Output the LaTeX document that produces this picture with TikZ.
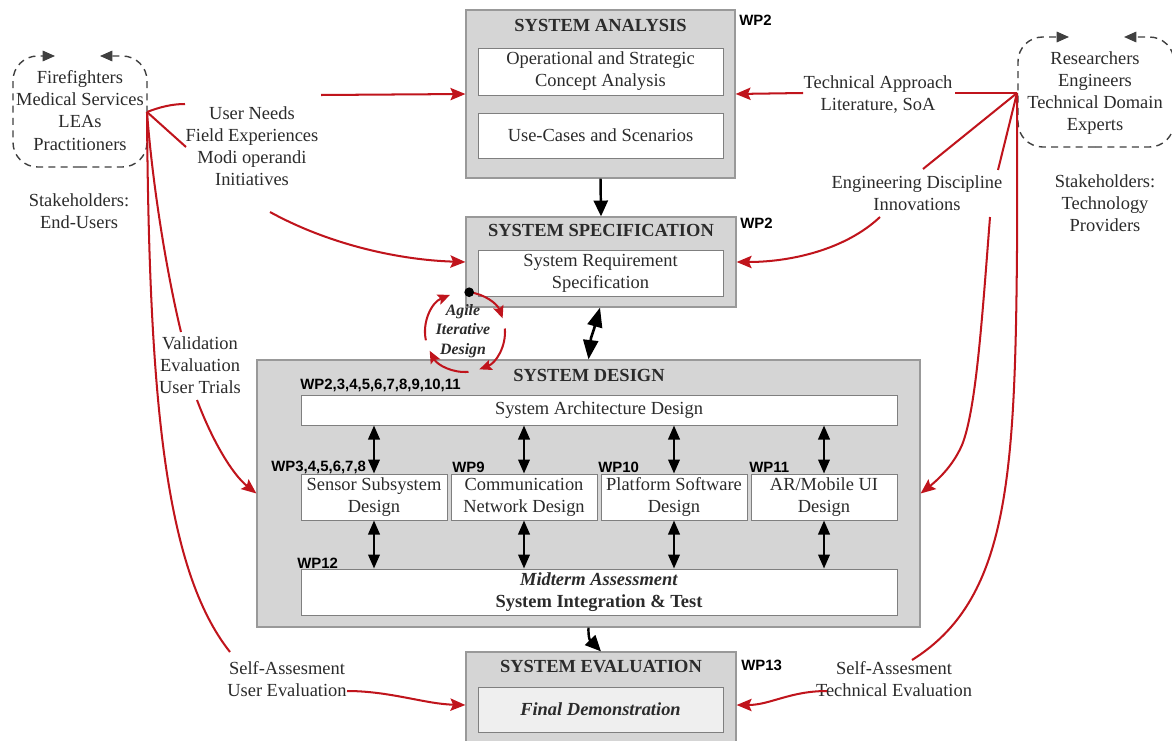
\documentclass[tikz,border=0pt]{standalone}
\usepackage{fontspec}
\setmainfont{Liberation Serif}
\newfontfamily\wpfont{Liberation Sans}
\usetikzlibrary{arrows.meta,fit,calc}

\definecolor{linkred}{HTML}{C0141C}
\definecolor{boxgray}{HTML}{D5D5D5}
\definecolor{edgegray}{HTML}{999999}
\definecolor{taskedge}{HTML}{7F7F7F}
\definecolor{inkgray}{HTML}{2B2B2B}
\definecolor{demofill}{HTML}{EFEFEF}

\tikzset{
  phase/.style={rectangle, draw=edgegray, fill=boxgray, line width=0.7pt, inner sep=0pt},
  size/.style 2 args={minimum width=#1*0.02cm, minimum height=#2*0.02cm},
  task/.style={rectangle, draw=taskedge, fill=white, line width=0.5pt, inner sep=0pt,
    align=center, text=inkgray, font=\fontsize{10.5}{12.6}\selectfont},
  phasetitle/.style={inner sep=0pt, text=inkgray, font=\fontsize{10.5}{12.6}\selectfont\bfseries},
  wp/.style={anchor=west, inner sep=0pt, text=black, font=\wpfont\fontsize{8.5}{10}\selectfont\bfseries},
  lbl/.style={align=center, inner sep=0pt, text=inkgray, font=\fontsize{10.5}{12.6}\selectfont},
  feed/.style={draw=linkred, line width=1.15pt},
  feedin/.style={feed, -{Stealth[length=8.5pt,width=7pt,inset=1.5pt]}},
  flow/.style={draw=black, line width=1.4pt, -{Triangle[length=9pt,width=8pt]}},
  flowboth/.style={draw=black, line width=1.4pt, {Triangle[length=8pt,width=6.5pt]}-{Triangle[length=8pt,width=6.5pt]}},
  flowbig/.style={draw=black, line width=1.5pt, {Triangle[length=11pt,width=8.5pt]}-{Triangle[length=11pt,width=8.5pt]}},
  grouprim/.style={draw=black!75, line width=0.8pt, dash pattern=on 4pt off 3pt,
    rounded corners=14pt, -{Triangle[length=7pt,width=6pt]}},
  iterarc/.style={draw=linkred, line width=1.15pt, -{Stealth[length=7pt,width=6pt,inset=1.2pt]}},
}

\begin{document}
\begin{tikzpicture}[x=0.02cm, y=-0.02cm]
\useasboundingbox (0,0) rectangle (1172,740);
\clip (0,0) rectangle (1172,740);
\fill[white] (0,0) rectangle (1172,740);

% ---------- phase containers ----------
\node[phase, fit={(466,10)(735,178)}] (SA) {};
\node[phase, fit={(466,217)(736,307)}] (SS) {};
\node[phase, fit={(257,360)(920,627)}] (SD) {};
\node[phase, fit={(466,652)(736,758)}] (SE) {};

\node[phasetitle] (SAt) at (600.5,25) {SYSTEM ANALYSIS};
\node[phasetitle] (SSt) at (601,230) {SYSTEM SPECIFICATION};
\node[phasetitle] (SDt) at (589,375) {SYSTEM DESIGN};
\node[phasetitle] (SEt) at (601,667) {SYSTEM EVALUATION};

% ---------- tasks ----------
\node[task, size={245}{47}] (osca) at (600.5,71.5) {Operational and Strategic\\Concept Analysis};
\node[task, size={245}{45}] (ucs) at (600.5,135.5) {Use-Cases and Scenarios};
\node[task, size={245}{46}] (srs) at (600.5,273) {System Requirement\\Specification};
\node[task, size={596}{30}] (arch) at (599,410) {System Architecture Design};
\node[task, size={146}{46}] (sen) at (374,497) {Sensor Subsystem\\Design};
\node[task, size={146}{46}] (com) at (524,497) {Communication\\Network Design};
\node[task, size={146}{46}] (pla) at (674,497) {Platform Software\\Design};
\node[task, size={146}{46}] (aru) at (824,497) {AR/Mobile UI\\Design};
\node[task, size={596}{46}] (integ) at (599,592) {\textbf{\textit{Midterm Assessment}}\\\textbf{System Integration \& Test}};
\node[task, size={245}{45}, fill=demofill] (demo) at (600.5,709.5) {\textbf{\textit{Final Demonstration}}};

% ---------- work packages ----------
\node[wp] (wpSA) at (739,20) {WP2};
\node[wp] (wpSS) at (740,223) {WP2};
\node[wp] (wpArch) at (300,385) {WP2,3,4,5,6,7,8,9,10,11};
\node[wp] (wpSen) at (271,467) {WP3,4,5,6,7,8};
\node[wp] (wpCom) at (452,467) {WP9};
\node[wp] (wpPla) at (598,467) {WP10};
\node[wp] (wpAru) at (749,467) {WP11};
\node[wp] (wpInt) at (297,563) {WP12};
\node[wp] (wpSE) at (741,665) {WP13};

% ---------- main flow ----------
\draw[flow] (SA.south) -- (SS.north);
\draw[flowbig] ($(SS.south)+(-1,0)$) -- (594,329) -- (591,338) -- (SD.north);
\draw[flow] (SD.south) .. controls (588,642) and (592,642) .. (SE.north);
\foreach \t in {sen,com,pla,aru}{
  \draw[flowboth] (arch.south -| \t.north) -- (\t.north);
  \draw[flowboth] (\t.south) -- (integ.north -| \t.south);
}

% ---------- stakeholder groups ----------
\node[lbl] (users) at (80,110.5) {Firefighters\\Medical Services\\LEAs\\Practitioners};
\draw[grouprim] (80,167) -| (13,56) -- (55,56);
\draw[grouprim] (80,167) -| (147,56) -- (100,56);
\node[lbl] (usersCap) at (79,211) {Stakeholders:\\End-Users};

\node[lbl] (experts) at (1095,93) {Researchers\\Engineers\\Technical Domain\\Experts};
\draw[grouprim] (1095,147) -| (1018,37) -- (1069,37);
\draw[grouprim] (1095,147) -| (1174,37) -- (1124,37);
\node[lbl] (expertsCap) at (1105,203) {Stakeholders:\\Technology\\Providers};

% ---------- flow labels ----------
\node[lbl] (needs) at (252,146) {User Needs\\Field Experiences\\Modi operandi\\Initiatives};
\node[lbl] (valid) at (200,365.5) {Validation\\Evaluation\\User Trials};
\node[lbl] (selfU) at (287,679) {Self-Assesment\\User Evaluation};
\node[lbl] (techapp) at (878,94.5) {Technical Approach\\Literature, SoA};
\node[lbl] (engdisc) at (917,193) {Engineering Discipline\\Innovations};
\node[lbl] (selfT) at (894,679) {Self-Assesment\\Technical Evaluation};

% ---------- end-user feedback ----------
\coordinate (hubL) at (147,112);
\coordinate (needsA) at (185,104);
\coordinate (needsB) at (321,95);
\coordinate (needsC) at (186,147);
\coordinate (needsD) at (270,212);
\coordinate (validA) at (181,332);
\coordinate (validB) at (197,400);
\coordinate (selfUA) at (230,652);
\coordinate (selfUB) at (347,691);

\draw[feed] (hubL) .. controls (160,107) and (172,104) .. (needsA);
\draw[feedin] (needsB) -- (SA.west);
\draw[feed] (hubL) -- (needsC);
\draw[feedin] (needsD) .. controls (330,245) and (400,260) .. (SS.west);
\draw[feed] (hubL) .. controls (152,180) and (166,270) .. (validA);
\draw[feedin] (validB) .. controls (212,440) and (232,474) .. (SD.west);
\draw[feed] (hubL) .. controls (149,400) and (165,570) .. (selfUA);
\draw[feedin] (selfUB) .. controls (390,691) and (425,704) .. (SE.west);

% ---------- technology-provider feedback ----------
\coordinate (hubR) at (1017,93);
\coordinate (techA) at (955,93);
\coordinate (techB) at (803,93);
\coordinate (engA) at (923,169);
\coordinate (engB) at (880,217);
\coordinate (engC) at (998,170);
\coordinate (engD) at (990,217);
\coordinate (selfTA) at (912,660);
\coordinate (selfTB) at (827,691);

\draw[feed] (hubR) -- (techA);
\draw[feedin] (techB) -- (SA.east);
\draw[feed] (hubR) -- (engA);
\draw[feedin] (engB) .. controls (845,250) and (790,262) .. (SS.east);
\draw[feed] (hubR) -- (engC);
\draw[feedin] (engD) .. controls (982,320) and (976,410) .. (962,445)
   .. controls (952,468) and (935,482) .. (SD.east);
\draw[feed] (hubR) -- (1017,250) .. controls (1015,480) and (1008,600) .. (selfTA);
\draw[feedin] (selfTB) .. controls (790,691) and (770,705) .. (SE.east);

% ---------- agile iteration loop ----------
\coordinate (agc) at (465,332);
\draw[iterarc] ($(agc)+(-84:40)$) arc[start angle=-84, end angle=-20, radius=40];
\draw[iterarc] ($(agc)+(-5:40)$) arc[start angle=-5, end angle=69, radius=40];
\draw[iterarc] ($(agc)+(85:40)$) arc[start angle=85, end angle=152, radius=40];
\draw[iterarc] ($(agc)+(168:40)$) arc[start angle=168, end angle=248, radius=40];
\node[circle, fill=black, inner sep=0pt, minimum size=5.5pt] (loopstart) at ($(agc)+(-84:40)$) {};
\node[align=center, inner sep=0pt, text=inkgray, font=\fontsize{9}{11}\selectfont\bfseries\itshape]
  (agile) at (463,331) {Agile\\Iterative\\Design};

\end{tikzpicture}
\end{document}
